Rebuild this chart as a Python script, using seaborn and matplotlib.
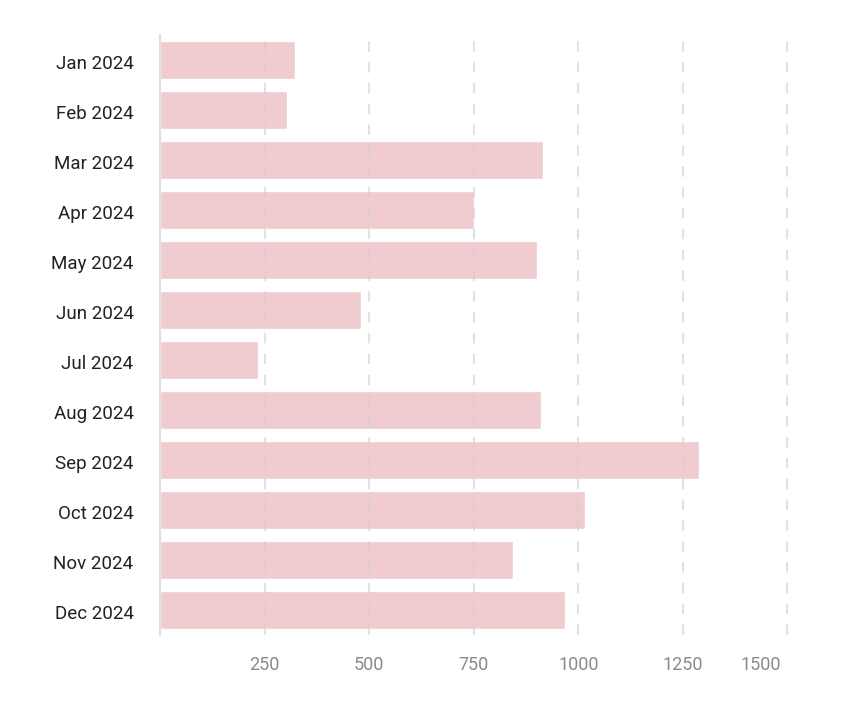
import matplotlib
matplotlib.use("Agg")
import matplotlib.pyplot as plt
import matplotlib.transforms as mtransforms
import seaborn as sns
import pandas as pd

months = ["Jan 2024", "Feb 2024", "Mar 2024", "Apr 2024", "May 2024", "Jun 2024",
          "Jul 2024", "Aug 2024", "Sep 2024", "Oct 2024", "Nov 2024", "Dec 2024"]
values = [323, 304, 915, 750, 901, 481, 234, 911, 1289, 1016, 844, 968]
xticks = [250, 500, 750, 1000, 1250, 1500]
xtick_labels = ["250", "500", "750", "1000", "1250", "1500"]

df = pd.DataFrame({"month": months, "value": values})

sns.set_theme(style="white")
plt.rcParams['font.family'] = ['Roboto', 'DejaVu Sans']

fig = plt.figure(figsize=(8.46, 7.05), dpi=100)
ax = fig.add_axes([160/846, 1 - 635/705, (790-160)/846, 600/705])

sns.barplot(data=df, y="month", x="value", orient="h", color="#f0cbcf",
            saturation=1, width=0.75, ax=ax, zorder=1)

ax.set_xlim(0, 1506)
ax.set_ylim(11.5, -0.5)
ax.set_xlabel("")
ax.set_ylabel("")

for t in xticks:
    ax.axvline(t, color="#d0d0d0", lw=1.5, ls=(0, (5, 5)), alpha=0.6, zorder=3)

ax.set_xticks(xticks)
ax.set_xticklabels(xtick_labels, color="#8a8a8a", fontsize=13)
ax.tick_params(axis="x", length=0, pad=15)
ax.tick_params(axis="y", length=0, pad=19, labelsize=13.5, labelcolor="#222222")
for lab in ax.get_yticklabels():
    lab.set_transform(lab.get_transform() + mtransforms.ScaledTranslation(0, -2/100, fig.dpi_scale_trans))
labs = ax.get_xticklabels()
labs[-1].set_horizontalalignment("right")
labs[-1].set_transform(labs[-1].get_transform() + mtransforms.ScaledTranslation(-6/100, 0, fig.dpi_scale_trans))

for s in ["top", "right", "bottom"]:
    ax.spines[s].set_visible(False)
ax.spines["left"].set_color("#e0e0e0")
ax.spines["left"].set_linewidth(1.5)
ax.grid(False)

fig.savefig("out.png", dpi=100, facecolor="white")
